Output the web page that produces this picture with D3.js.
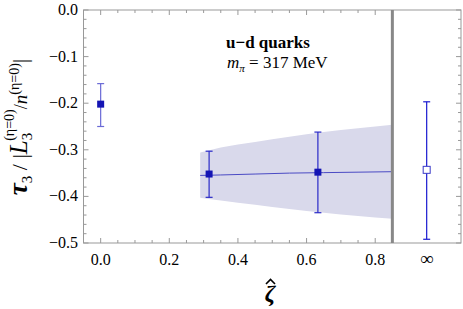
<!DOCTYPE html>
<html>
<head>
<meta charset="utf-8">
<script src="https://cdn.jsdelivr.net/npm/d3@7"></script>
<style>
  body { margin: 0; background: #fff; }
  svg { display: block; font-family: "Liberation Serif", "DejaVu Serif", serif; }
</style>
</head>
<body>
<div id="chart"></div>
<script>
// lattice points (zeta-hat, value, error low, error high)
const zeta = [0.0, 0.316, 0.633];
const tau = [-0.202, -0.352, -0.348];
const errLo = [-0.250, -0.402, -0.435];
const errHi = [-0.158, -0.303, -0.262];

// extrapolated value shown at infinity
const infPos = 0.95;
const infVal = -0.343;
const infLo = -0.492;
const infHi = -0.197;

// fit band
const bandZeta = [0.29, 0.35, 0.45, 0.55, 0.65, 0.75, 0.85];
const bandMid = [-0.355, -0.354, -0.352, -0.350, -0.349, -0.348, -0.347];
const bandUp = [-0.306, -0.295, -0.283, -0.272, -0.262, -0.254, -0.246];
const bandDn = [-0.403, -0.409, -0.418, -0.427, -0.435, -0.442, -0.448];

const cutoff = 0.85;
const xTicks = [0, 0.2, 0.4, 0.6, 0.8];
const yTicks = [0, -0.1, -0.2, -0.3, -0.4, -0.5];

const W = 463, H = 309;
const pL = 83.5, pR = 461, pT = 10, pB = 243;

const svg = d3.select('#chart').append('svg')
    .attr('width', W)
    .attr('height', H);

const x = d3.scaleLinear().domain([-0.05, 1.05]).range([pL, pR]);
const y = d3.scaleLinear().domain([0, -0.5]).range([pT, pB]);

const fmt = v => (v < 0 ? '\u2212' : '') + Math.abs(v).toFixed(1);

// band
const area = d3.area()
    .x((d, i) => x(bandZeta[i]))
    .y0((d, i) => y(bandDn[i]))
    .y1((d, i) => y(bandUp[i]))
    .curve(d3.curveMonotoneX);
svg.append('path')
    .datum(bandZeta)
    .attr('d', area)
    .attr('fill', '#d9d9eb');

svg.append('path')
    .datum(bandZeta)
    .attr('d', d3.line().x((d, i) => x(bandZeta[i])).y((d, i) => y(bandMid[i])))
    .attr('fill', 'none')
    .attr('stroke', '#4a4ac4')
    .attr('stroke-width', 1);

// frame
const frameColor = '#999';
svg.append('rect')
    .attr('x', pL).attr('y', pT)
    .attr('width', pR - pL).attr('height', pB - pT)
    .attr('fill', 'none')
    .attr('stroke', frameColor)
    .attr('stroke-width', 1);

// x ticks (bottom + top, only up to the cutoff)
const xMinor = d3.range(0, 17).map(i => i * 0.05).filter(v => v <= 0.8001);
const ticks = svg.append('g').attr('stroke', frameColor).attr('stroke-width', 1);
xMinor.forEach(v => {
    const major = xTicks.some(t => Math.abs(t - v) < 1e-6);
    const len = major ? 5 : 3;
    ticks.append('line').attr('x1', x(v)).attr('x2', x(v)).attr('y1', pB).attr('y2', pB - len);
    ticks.append('line').attr('x1', x(v)).attr('x2', x(v)).attr('y1', pT).attr('y2', pT + len);
});
// y ticks (left + right)
d3.range(0, 26).map(i => -i * 0.02).forEach(v => {
    const major = yTicks.some(t => Math.abs(t - v) < 1e-6);
    const len = major ? 5 : 3;
    ticks.append('line').attr('x1', pL).attr('x2', pL + len).attr('y1', y(v)).attr('y2', y(v));
    ticks.append('line').attr('x1', pR).attr('x2', pR - len).attr('y1', y(v)).attr('y2', y(v));
});

// tick labels
svg.append('g').selectAll('text')
    .data(xTicks).enter().append('text')
    .attr('x', d => x(d)).attr('y', 265)
    .attr('text-anchor', 'middle')
    .attr('font-size', 16)
    .text(d => d.toFixed(1));
svg.append('text')
    .attr('x', x(infPos)).attr('y', 265)
    .attr('text-anchor', 'middle')
    .attr('font-size', 19)
    .text('\u221E');
svg.append('g').selectAll('text')
    .data(yTicks).enter().append('text')
    .attr('x', 78).attr('y', d => y(d) + 5)
    .attr('text-anchor', 'end')
    .attr('font-size', 16)
    .text(fmt);

// cutoff line
svg.append('line')
    .attr('x1', x(cutoff)).attr('x2', x(cutoff))
    .attr('y1', pT).attr('y2', pB)
    .attr('stroke', '#888').attr('stroke-width', 3);

// error bars
function errorBar(g, cx, lo, hi, color) {
    g.append('line').attr('x1', cx).attr('x2', cx).attr('y1', y(lo)).attr('y2', y(hi))
        .attr('stroke', color).attr('stroke-width', 1.2);
    [lo, hi].forEach(v => g.append('line')
        .attr('x1', cx - 3.5).attr('x2', cx + 3.5).attr('y1', y(v)).attr('y2', y(v))
        .attr('stroke', color).attr('stroke-width', 1.2));
}
const pts = svg.append('g');
zeta.forEach((z, i) => {
    errorBar(pts, x(z), errLo[i], errHi[i], i === 0 ? '#6a6ad6' : '#2a2ac8');
    pts.append('rect')
        .attr('x', x(z) - 3.5).attr('y', y(tau[i]) - 3.5)
        .attr('width', 7).attr('height', 7)
        .attr('fill', '#1414b4');
});
errorBar(pts, x(infPos), infLo, infHi, '#1a1ad0');
pts.append('rect')
    .attr('x', x(infPos) - 3.5).attr('y', y(infVal) - 3.5)
    .attr('width', 7).attr('height', 7)
    .attr('fill', '#fff').attr('stroke', '#3a3ac8').attr('stroke-width', 1);

// annotation
svg.append('text')
    .attr('x', 226).attr('y', 48)
    .attr('font-size', 17).attr('font-weight', 'bold')
    .text('u\u2212d quarks');
const ann = svg.append('text').attr('x', 227).attr('y', 68).attr('font-size', 17);
ann.append('tspan').attr('font-style', 'italic').text('m');
ann.append('tspan').attr('font-style', 'italic').attr('font-size', 11).attr('dy', 4).text('\u03C0');
ann.append('tspan').attr('dy', -4).text(' = 317 MeV');

// x axis label: zeta with a hat
svg.append('text')
    .attr('x', 270).attr('y', 301)
    .attr('text-anchor', 'middle')
    .attr('font-size', 24).attr('font-style', 'italic').attr('font-weight', 'bold')
    .text('\u03B6');
svg.append('path')
    .attr('d', 'M266,284 L270.5,279.5 L275,284')
    .attr('fill', 'none')
    .attr('stroke', '#000')
    .attr('stroke-width', 1.6);

// y axis label
const yl = svg.append('text')
    .attr('transform', 'translate(27,127) rotate(-90)')
    .attr('text-anchor', 'middle')
    .attr('font-size', 22);
yl.append('tspan').attr('font-style', 'italic').attr('font-weight', 'bold').attr('font-size', 27).text('\u03C4');
yl.append('tspan').attr('font-size', 15).attr('dy', 5).text('3');
yl.append('tspan').attr('dy', -5).text(' / |');
yl.append('tspan').attr('font-style', 'italic').attr('font-size', 25).text('L');
yl.append('tspan').attr('font-size', 15).attr('dy', 5).text('3');
yl.append('tspan').attr('font-size', 14).attr('dx', -8).attr('dy', -18).text('(\u03B7=0)');
yl.append('tspan').attr('font-size', 18).attr('dy', 13).text('/');
yl.append('tspan').attr('font-style', 'italic').attr('font-size', 19).text('n');
yl.append('tspan').attr('font-size', 14).attr('dy', -8).text('(\u03B7=0)');
yl.append('tspan').attr('dy', 8).text('|');
</script>
</body>
</html>
